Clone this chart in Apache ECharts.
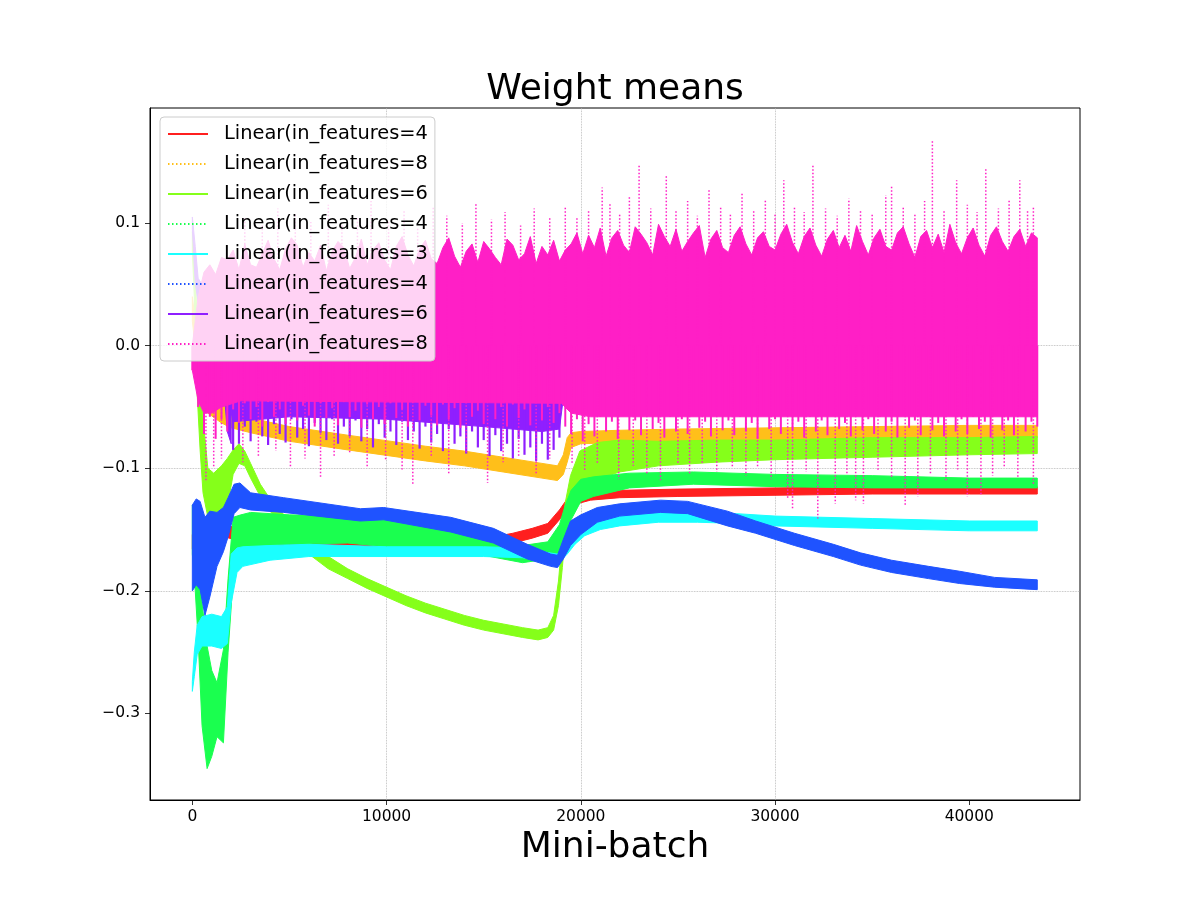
<!DOCTYPE html>
<html>
<head>
    <meta charset="UTF-8">
    <title>Weight means</title>
    <script src="https://cdn.jsdelivr.net/npm/echarts@6/dist/echarts.min.js"></script>
    <style>
        html, body { margin: 0; padding: 0; background: #fff; }
        #main { width: 1200px; height: 900px; }
    </style>
</head>
<body>
<div id="main"></div>
<script type="text/javascript">
    // legend labels (cut short in the original plot)
    var labels = ['Linear(in_features=4', 'Linear(in_features=8', 'Linear(in_features=6', 'Linear(in_features=4',
        'Linear(in_features=3', 'Linear(in_features=4', 'Linear(in_features=6', 'Linear(in_features=8'];
    var colors = ['#ff1f1f', '#ffbf1a', '#85ff1a', '#1aff4f', '#1affff', '#1f53ff', '#8f1fff', '#ff1fc6'];
    var dotted = [false, true, false, true, false, true, false, true];

    var xTicks = [0, 10000, 20000, 30000, 40000];
    var yTicks = [-0.3, -0.2, -0.1, 0, 0.1];

    // layer 0 (red)
    var redX = [0, 500, 1000, 1500, 2500, 4000, 6000, 8000, 10000, 12000, 14000, 15500, 16500, 17500, 18300, 18900, 19300, 19800, 20500, 22000, 25000, 30000, 35000, 40000, 43500];
    var redMid = [-0.160, -0.155, -0.148, -0.150, -0.155, -0.157, -0.160, -0.162, -0.162, -0.162, -0.161, -0.160, -0.157, -0.153, -0.149, -0.138, -0.129, -0.125, -0.123, -0.121, -0.120, -0.119, -0.118, -0.118, -0.118];
    var redHalf = [0.006, 0.006, 0.006, 0.005, 0.005, 0.005, 0.005, 0.005, 0.005, 0.004, 0.004, 0.004, 0.004, 0.004, 0.004, 0.004, 0.004, 0.004, 0.003, 0.003, 0.003, 0.003, 0.003, 0.003, 0.003];

    // layer 1 (orange)
    var orangeX = [0, 300, 800, 1500, 2000, 3000, 5000, 8000, 12000, 14000, 16000, 18000, 18800, 19100, 19300, 19500, 20000, 22000, 25000, 30000, 35000, 40000, 43500];
    var orangeMid = [0.030, -0.010, -0.045, -0.055, -0.060, -0.065, -0.072, -0.079, -0.088, -0.092, -0.097, -0.102, -0.104, -0.097, -0.085, -0.077, -0.075, -0.074, -0.073, -0.072, -0.071, -0.070, -0.070];
    var orangeHalf = [0.010, 0.012, 0.010, 0.008, 0.007, 0.006, 0.006, 0.006, 0.006, 0.006, 0.006, 0.006, 0.006, 0.008, 0.010, 0.006, 0.005, 0.005, 0.005, 0.005, 0.005, 0.005, 0.005];

    // layer 2 (lime)
    var limeX = [0, 100, 250, 400, 550, 800, 1100, 1500, 1800, 2100, 2400, 2700, 3000, 3500, 4000, 5000, 6000, 7000, 8000, 9000,
        10000, 11000, 12000, 13000, 14000, 15000, 16000, 17000, 17800, 18300, 18600, 18850, 19050, 19200, 19470, 19950, 20850, 22000, 24000, 27000,
        30000, 35000, 40000, 43500];
    var limeMid = [0.085, 0.060, -0.010, -0.050, -0.090, -0.120, -0.122, -0.118, -0.112, -0.095, -0.088, -0.092, -0.102, -0.118, -0.130, -0.148, -0.165, -0.177, -0.186, -0.194,
        -0.201, -0.208, -0.214, -0.219, -0.224, -0.228, -0.231, -0.234, -0.236, -0.234, -0.226, -0.202, -0.169, -0.140, -0.118, -0.100, -0.094, -0.090, -0.088, -0.086,
        -0.085, -0.083, -0.082, -0.081];
    var limeHalf = [0.008, 0.020, 0.030, 0.035, 0.030, 0.020, 0.018, 0.020, 0.020, 0.010, 0.008, 0.006, 0.006, 0.005, 0.005, 0.005, 0.005, 0.005, 0.004, 0.004,
        0.004, 0.004, 0.004, 0.004, 0.004, 0.004, 0.004, 0.004, 0.004, 0.004, 0.006, 0.010, 0.012, 0.012, 0.012, 0.014, 0.015, 0.013, 0.010, 0.009,
        0.008, 0.008, 0.007, 0.007];

    // layer 3 (green)
    var greenX = [0, 150, 300, 500, 760, 1000, 1270, 1600, 1840, 2100, 2500, 3000, 5000, 8000, 10000, 13000, 15000, 17000, 18300, 18900,
        19200, 19500, 20000, 20650, 22500, 25800, 30000, 35000, 40000, 43500];
    var greenMid = [-0.150, -0.170, -0.200, -0.260, -0.295, -0.300, -0.297, -0.286, -0.220, -0.165, -0.152, -0.150, -0.150, -0.150, -0.153, -0.157, -0.162, -0.170, -0.167, -0.158,
        -0.145, -0.130, -0.118, -0.115, -0.110, -0.108, -0.110, -0.111, -0.112, -0.112];
    var greenHalf = [0.020, 0.030, 0.040, 0.050, 0.050, 0.035, 0.022, 0.038, 0.030, 0.025, 0.014, 0.014, 0.012, 0.011, 0.011, 0.009, 0.009, 0.007, 0.007, 0.012,
        0.015, 0.012, 0.009, 0.008, 0.006, 0.005, 0.005, 0.005, 0.004, 0.004];

    // layer 4 (cyan)
    var cyanX = [0, 100, 250, 500, 1000, 1500, 1800, 2000, 2300, 2600, 4000, 6000, 10000, 15000, 17000, 18000, 18800, 19300, 19700, 20200,
        21000, 22000, 24000, 26000, 28000, 30000, 35000, 40000, 43500];
    var cyanMid = [-0.278, -0.260, -0.240, -0.233, -0.232, -0.234, -0.228, -0.190, -0.175, -0.172, -0.169, -0.167, -0.168, -0.168, -0.169, -0.172, -0.174, -0.165, -0.157, -0.150,
        -0.146, -0.143, -0.140, -0.140, -0.141, -0.143, -0.145, -0.147, -0.147];
    var cyanHalf = [0.004, 0.010, 0.012, 0.012, 0.013, 0.013, 0.015, 0.020, 0.010, 0.008, 0.006, 0.005, 0.004, 0.004, 0.004, 0.004, 0.004, 0.005, 0.005, 0.005,
        0.004, 0.004, 0.004, 0.004, 0.004, 0.004, 0.004, 0.004, 0.004];

    // layer 5 (blue)
    var blueX = [0, 200, 400, 650, 900, 1270, 1600, 1840, 2150, 2450, 3000, 4700, 8650, 9850, 13300, 15500, 17240, 18450, 18800, 19100,
        19470, 20000, 20850, 22000, 24100, 25500, 27550, 29000, 31000, 33000, 34400, 36000, 37900, 39500, 41300, 43500];
    var blueMid = [-0.165, -0.160, -0.163, -0.180, -0.170, -0.158, -0.150, -0.140, -0.125, -0.122, -0.127, -0.130, -0.138, -0.137, -0.146, -0.155, -0.168, -0.175, -0.176, -0.166,
        -0.153, -0.146, -0.138, -0.134, -0.131, -0.132, -0.141, -0.148, -0.158, -0.167, -0.174, -0.180, -0.185, -0.189, -0.193, -0.195];
    var blueHalf = [0.035, 0.035, 0.036, 0.040, 0.035, 0.022, 0.018, 0.016, 0.012, 0.010, 0.007, 0.006, 0.005, 0.005, 0.006, 0.006, 0.006, 0.005, 0.005, 0.008,
        0.010, 0.008, 0.006, 0.005, 0.005, 0.005, 0.006, 0.005, 0.005, 0.005, 0.005, 0.005, 0.005, 0.005, 0.004, 0.004];

    // layer 6 (violet): the start, a core under the pink, and the ragged lower edge
    var violetEarlyX = [0, 150, 300, 500, 800, 1000, 1300, 1600, 1800, 2000];
    var violetEarlyMid = [0.100, 0.066, 0.045, 0.040, 0.045, 0.035, 0.020, -0.005, -0.030, -0.035];
    var violetEarlyHalf = [0.005, 0.015, 0.010, 0.010, 0.010, 0.010, 0.012, 0.025, 0.040, 0.045];
    var violetCoreX = [1800, 2100, 5000, 10000, 15000, 18000, 18900, 19200];
    var violetCoreLo = [-0.040, -0.062, -0.058, -0.060, -0.066, -0.070, -0.068, -0.030];
    var violetStart = 1800, violetStep = 300;
    var violetLo = [-0.060, -0.085, -0.080, -0.066, -0.078, -0.062, -0.074, -0.081, -0.064, -0.072,
        -0.079, -0.060, -0.075, -0.068, -0.082, -0.063, -0.071, -0.077, -0.060, -0.080,
        -0.066, -0.074, -0.061, -0.078, -0.068, -0.083, -0.064, -0.075, -0.070, -0.081,
        -0.062, -0.077, -0.070, -0.084, -0.066, -0.079, -0.072, -0.086, -0.068, -0.080,
        -0.074, -0.088, -0.070, -0.083, -0.077, -0.090, -0.073, -0.086, -0.080, -0.092,
        -0.076, -0.089, -0.083, -0.094, -0.080, -0.093, -0.085, -0.075, -0.030];

    // layer 7 (pink): ragged top sampled every 300 mini-batches, solid lower core,
    // lower ragged strokes and the long dotted spikes
    var pinkStep = 300;
    var pinkHi = [0.000, 0.040, 0.060, 0.066, 0.058, 0.072, 0.070, 0.078, 0.062, 0.083,
        0.066, 0.064, 0.075, 0.086, 0.071, 0.062, 0.079, 0.088, 0.082, 0.064,
        0.076, 0.069, 0.082, 0.061, 0.077, 0.085, 0.080, 0.063, 0.072, 0.087,
        0.066, 0.078, 0.084, 0.070, 0.062, 0.081, 0.089, 0.074, 0.065, 0.079,
        0.086, 0.071, 0.067, 0.080, 0.088, 0.073, 0.064, 0.077, 0.083, 0.068,
        0.085, 0.079, 0.072, 0.066, 0.087, 0.082, 0.070, 0.075, 0.089, 0.067,
        0.081, 0.074, 0.086, 0.069, 0.078, 0.083, 0.092, 0.075, 0.090, 0.080,
        0.096, 0.073, 0.088, 0.094, 0.082, 0.076, 0.097, 0.091, 0.084, 0.074,
        0.099, 0.089, 0.081, 0.095, 0.077, 0.085, 0.092, 0.098, 0.072, 0.087,
        0.094, 0.080, 0.076, 0.090, 0.097, 0.083, 0.074, 0.088, 0.093, 0.081,
        0.078, 0.091, 0.099, 0.084, 0.075, 0.089, 0.096, 0.082, 0.073, 0.087,
        0.094, 0.080, 0.090, 0.077, 0.098, 0.085, 0.074, 0.088, 0.095, 0.081,
        0.078, 0.092, 0.097, 0.083, 0.072, 0.089, 0.094, 0.080, 0.091, 0.076,
        0.099, 0.084, 0.075, 0.088, 0.096, 0.082, 0.073, 0.090, 0.097, 0.085,
        0.077, 0.089, 0.095, 0.081, 0.092, 0.088];
    var pinkCoreX = [0, 300, 600, 1000, 1500, 2500, 19000, 19500, 20500, 43500];
    var pinkCoreLo = [-0.020, -0.045, -0.055, -0.055, -0.050, -0.045, -0.047, -0.055, -0.058, -0.058];
    var pinkLo = [-0.020, -0.050, -0.072, -0.058, -0.076, -0.060, -0.070, -0.052, -0.063, -0.047,
        -0.060, -0.050, -0.066, -0.046, -0.058, -0.052, -0.064, -0.045, -0.061, -0.049,
        -0.057, -0.066, -0.047, -0.059, -0.051, -0.065, -0.046, -0.058, -0.053, -0.067,
        -0.048, -0.060, -0.050, -0.064, -0.047, -0.059, -0.052, -0.066, -0.046, -0.061,
        -0.049, -0.057, -0.065, -0.048, -0.060, -0.051, -0.067, -0.047, -0.058, -0.053,
        -0.064, -0.046, -0.060, -0.050, -0.066, -0.048, -0.059, -0.052, -0.065, -0.047,
        -0.061, -0.050, -0.063, -0.055, -0.066, -0.072, -0.060, -0.078, -0.064, -0.074,
        -0.058, -0.070, -0.062, -0.076, -0.057, -0.069, -0.061, -0.073, -0.056, -0.068,
        -0.063, -0.075, -0.058, -0.070, -0.060, -0.072, -0.056, -0.067, -0.062, -0.074,
        -0.057, -0.069, -0.061, -0.073, -0.058, -0.070, -0.063, -0.076, -0.056, -0.068,
        -0.060, -0.072, -0.057, -0.069, -0.062, -0.075, -0.058, -0.070, -0.061, -0.073,
        -0.056, -0.068, -0.063, -0.074, -0.057, -0.069, -0.060, -0.072, -0.058, -0.070,
        -0.062, -0.075, -0.056, -0.067, -0.061, -0.073, -0.058, -0.069, -0.063, -0.074,
        -0.057, -0.070, -0.060, -0.072, -0.058, -0.068, -0.062, -0.075, -0.056, -0.069,
        -0.061, -0.073, -0.057, -0.070, -0.062, -0.066];
    var pinkSpikesUp = [[2700, 0.105], [3600, 0.098], [4400, 0.112], [5300, 0.108], [6100, 0.101], [7000, 0.115], [7700, 0.099], [8500, 0.104],
        [9200, 0.118], [10100, 0.102], [10900, 0.110], [11600, 0.097], [12400, 0.113], [13100, 0.106], [13900, 0.100], [14600, 0.117],
        [15400, 0.103], [16100, 0.109], [16900, 0.098], [17600, 0.112], [18400, 0.104], [19200, 0.113], [19800, 0.104], [20400, 0.110],
        [21100, 0.129], [21500, 0.117], [22000, 0.108], [22500, 0.121], [23000, 0.148], [23600, 0.112], [24400, 0.139], [24900, 0.110],
        [25500, 0.118], [26000, 0.106], [26600, 0.127], [27200, 0.113], [27700, 0.108], [28300, 0.125], [28900, 0.111], [29500, 0.119],
        [30000, 0.107], [30450, 0.135], [31000, 0.114], [31500, 0.109], [31950, 0.147], [32600, 0.112], [33200, 0.106], [33800, 0.120],
        [34400, 0.111], [35000, 0.108], [35700, 0.123], [36000, 0.130], [36600, 0.113], [37200, 0.107], [37700, 0.118], [38100, 0.168],
        [38700, 0.110], [39350, 0.135], [39900, 0.115], [40400, 0.109], [40850, 0.145], [41500, 0.112], [42050, 0.119], [42600, 0.135],
        [43000, 0.110], [43300, 0.113]];
    var pinkSpikesDown = [[700, -0.110], [1100, -0.100], [1500, -0.092], [2600, -0.095], [3400, -0.090], [4300, -0.086], [5050, -0.099], [5800, -0.092],
        [6600, -0.107], [7300, -0.090], [8100, -0.088], [9000, -0.100], [9950, -0.093], [10800, -0.101], [11350, -0.113], [12300, -0.090],
        [13200, -0.104], [14100, -0.088], [15200, -0.112], [16000, -0.095], [16800, -0.090], [17700, -0.104], [18400, -0.092], [19550, -0.096],
        [20200, -0.102], [20850, -0.096], [21950, -0.109], [22700, -0.098], [23400, -0.104], [24100, -0.110], [25000, -0.097], [25600, -0.105],
        [26250, -0.096], [27000, -0.103], [27800, -0.099], [28500, -0.106], [29100, -0.100], [29800, -0.109], [30650, -0.124], [30900, -0.134],
        [31600, -0.103], [32200, -0.141], [33100, -0.129], [33700, -0.105], [34150, -0.126], [34550, -0.129], [35300, -0.102], [36000, -0.108],
        [36700, -0.130], [37350, -0.123], [38000, -0.104], [38800, -0.110], [39400, -0.101], [39900, -0.123], [40600, -0.122], [41200, -0.106],
        [41800, -0.100], [42500, -0.108], [43300, -0.113]];

    var font = 'DejaVu Sans';

    function lowOf(mid, half) { return mid.map(function (m, i) { return m - half[i]; }); }
    function highOf(mid, half) { return mid.map(function (m, i) { return m + half[i]; }); }
    function stepX(n, start, step) { var a = []; for (var i = 0; i < n; i++) a.push(start + i * step); return a; }
    function pairs(xs, ys) { return xs.map(function (x, i) { return [x, ys[i]]; }); }

    // filled region: top edge (topX, topY) left to right, then bottom edge back
    function area(name, color, topX, topY, botX, botY) {
        return {
            type: 'custom',
            name: name,
            silent: true,
            clip: true,
            data: pairs(topX, topY).concat(pairs(botX, botY)),
            encode: {x: 0, y: 1},
            renderItem: function (params, api) {
                if (params.dataIndex !== 0) return null;
                var pts = [];
                for (var i = 0; i < topX.length; i++) pts.push(api.coord([topX[i], topY[i]]));
                for (var j = botX.length - 1; j >= 0; j--) pts.push(api.coord([botX[j], botY[j]]));
                return {
                    type: 'polygon',
                    shape: {points: pts},
                    style: {fill: color, stroke: color, lineWidth: 1}
                };
            }
        };
    }
    function band(name, color, xs, mid, half) {
        return area(name, color, xs, highOf(mid, half), xs, lowOf(mid, half));
    }

    // vertical strokes from a base value to each [x, y]
    function strokes(name, color, list, base, width, dash) {
        return {
            type: 'custom',
            name: name,
            silent: true,
            clip: true,
            data: list,
            encode: {x: 0, y: 1},
            renderItem: function (params, api) {
                var a = api.coord([api.value(0), base]);
                var b = api.coord([api.value(0), api.value(1)]);
                return {
                    type: 'line',
                    shape: {x1: a[0], y1: a[1], x2: b[0], y2: b[1]},
                    style: {stroke: color, lineWidth: width, lineDash: dash}
                };
            }
        };
    }

    // legend keys must be unique, so pad duplicates with zero-width spaces
    var keys = labels.map(function (l, i) { return l + new Array(i + 1).join('\u200b'); });

    var pinkX = stepX(pinkHi.length, 0, pinkStep);
    var violetX = stepX(violetLo.length, violetStart, violetStep);

    var series = [
        band('b0', colors[0], redX, redMid, redHalf),
        band('b1', colors[1], orangeX, orangeMid, orangeHalf),
        band('b2', colors[2], limeX, limeMid, limeHalf),
        band('b3', colors[3], greenX, greenMid, greenHalf),
        band('b4', colors[4], cyanX, cyanMid, cyanHalf),
        band('b5', colors[5], blueX, blueMid, blueHalf),
        band('b6a', colors[6], violetEarlyX, violetEarlyMid, violetEarlyHalf),
        area('b6b', colors[6], violetCoreX, violetCoreLo.map(function () { return 0; }), violetCoreX, violetCoreLo),
        strokes('s6', colors[6], pairs(violetX, violetLo), 0, 2.2, null),
        area('b7', colors[7], pinkX, pinkHi, pinkCoreX, pinkCoreLo),
        strokes('s7b', colors[7], pairs(pinkX, pinkLo), 0, 2, null),
        strokes('s7c', colors[7], pinkSpikesUp, 0, 1.5, [1.5, 2]),
        strokes('s7d', colors[7], pinkSpikesDown, 0, 1.5, [1.5, 2])
    ];
    // empty line series only carry the legend entries
    keys.forEach(function (k, i) {
        series.push({
            type: 'line',
            name: k,
            data: [],
            symbol: 'none',
            itemStyle: {color: colors[i]},
            lineStyle: {color: colors[i], width: 1.5, type: dotted[i] ? [1.5, 2.5] : 'solid'}
        });
    });

    var myChart = echarts.init(document.getElementById('main'));
    var option = {
        animation: false,
        backgroundColor: '#fff',
        title: {
            text: 'Weight means',
            left: 610,
            top: 67,
            textAlign: 'center',
            textStyle: {fontSize: 36, fontWeight: 'normal', fontFamily: font, color: '#000'}
        },
        legend: {
            orient: 'vertical',
            left: 160,
            top: 117,
            padding: [6, 7, 6, 7],
            itemWidth: 40,
            itemHeight: 14,
            itemGap: 8,
            backgroundColor: 'rgba(255,255,255,0.8)',
            borderColor: '#cccccc',
            borderWidth: 1,
            borderRadius: 4,
            data: keys,
            itemStyle: {opacity: 0},
            formatter: function (name) { return name.replace(/\u200b/g, ''); },
            textStyle: {fontSize: 19.4, lineHeight: 22, fontFamily: font, color: '#000', padding: [0, 0, 0, 11]}
        },
        grid: {
            left: 150,
            right: 120,
            top: 108,
            bottom: 100,
            show: true,
            borderColor: '#000',
            borderWidth: 1,
            backgroundColor: 'transparent'
        },
        xAxis: {
            type: 'value',
            min: -2180,
            max: 45700,
            name: 'Mini-batch',
            nameLocation: 'middle',
            nameGap: 30,
            nameTextStyle: {fontSize: 36, fontFamily: font, color: '#000'},
            axisLine: {show: true, onZero: false, lineStyle: {color: '#000', width: 1}},
            axisTick: {show: true, length: 5, customValues: xTicks, lineStyle: {color: '#000', width: 0.8}},
            axisLabel: {
                customValues: xTicks,
                fontSize: 15.5,
                fontFamily: font,
                color: '#000',
                margin: 9,
                formatter: function (v) { return v % 10000 === 0 ? String(v) : ''; }
            },
            splitLine: {show: true, showMinLine: false, showMaxLine: false, lineStyle: {type: 'dotted', color: '#b0b0b0', width: 0.8}}
        },
        yAxis: {
            type: 'value',
            min: -0.3706,
            max: 0.1939,
            axisLine: {show: true, onZero: false, lineStyle: {color: '#000', width: 1}},
            axisTick: {show: true, length: 5, customValues: yTicks, lineStyle: {color: '#000', width: 0.8}},
            axisLabel: {
                customValues: yTicks,
                fontSize: 15.5,
                fontFamily: font,
                color: '#000',
                margin: 10,
                formatter: function (v) {
                    var r = Math.round(v * 10) / 10;
                    if (Math.abs(v - r) > 1e-6) return '';
                    if (Math.abs(r) < 1e-9) return '0.0';
                    return (r < 0 ? '\u2212' : '') + Math.abs(r).toFixed(1);
                }
            },
            splitLine: {show: true, showMinLine: false, showMaxLine: false, lineStyle: {type: 'dotted', color: '#b0b0b0', width: 0.8}}
        },
        series: series
    };
    myChart.setOption(option);
</script>
</body>
</html>
